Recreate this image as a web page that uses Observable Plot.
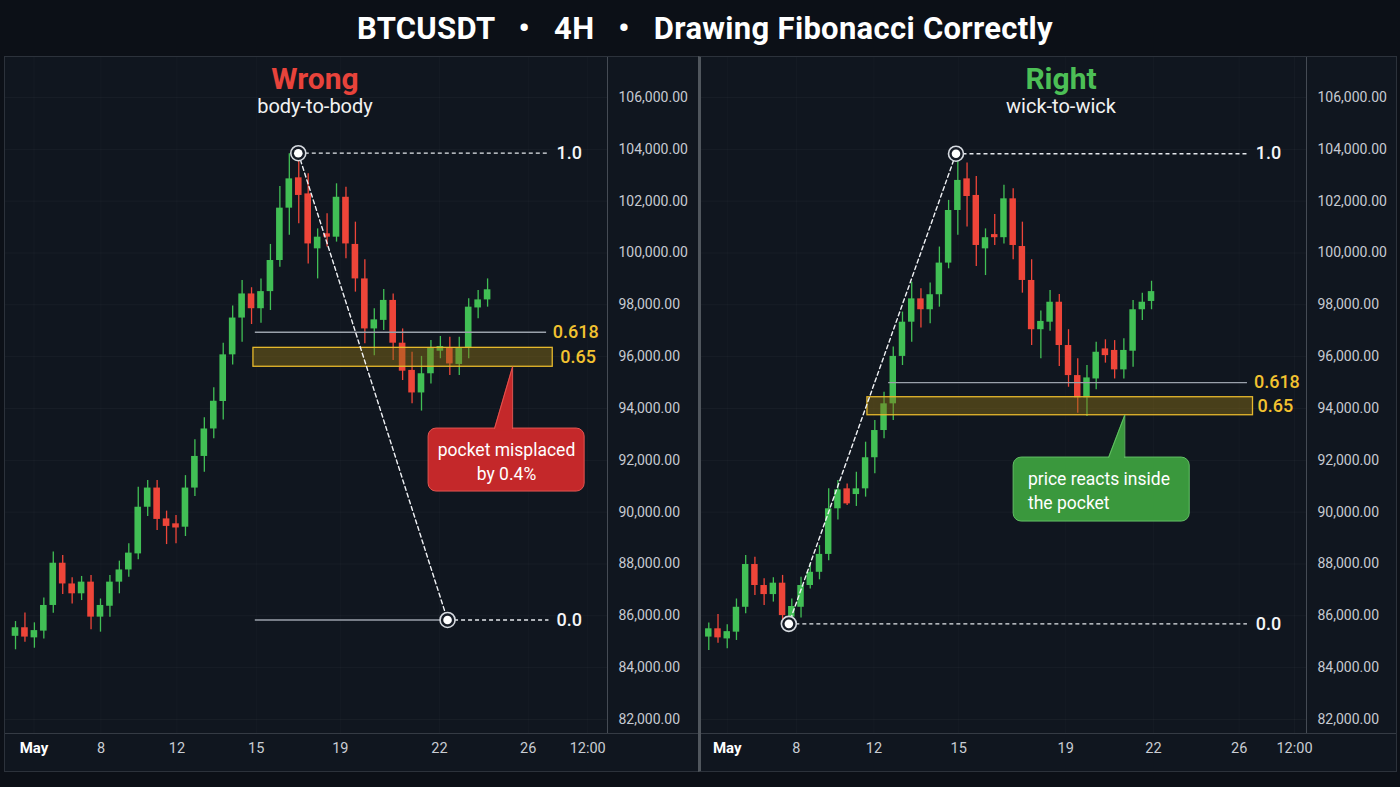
<!DOCTYPE html>
<html><head><meta charset="utf-8">
<script src="https://cdn.jsdelivr.net/npm/d3@7"></script>
<script src="https://cdn.jsdelivr.net/npm/@observablehq/plot@0.6"></script>
<style>
html,body{margin:0;padding:0;background:#0c1017;}
#root{position:relative;width:1400px;height:787px;overflow:hidden;background:#0c1017;font-family:Roboto,"Noto Sans",sans-serif;}
#title{position:absolute;left:5px;top:10px;width:1400px;line-height:37px;text-align:center;color:#fff;font-weight:700;font-size:31px;letter-spacing:0.3px;white-space:pre;}
.panel{position:absolute;top:56px;height:714px;background:#10161f;border:1px solid #2c323b;}
#left{left:4px;width:693px;border-right:none;}
#right{left:698px;width:695px;border-left:3px solid #50565d;}
.axisrow{position:absolute;left:0;right:0;top:676px;height:38px;border-top:1px solid #353b44;pointer-events:none;}
.pt{position:absolute;top:5px;width:240px;text-align:center;white-space:nowrap;}
.pt .h{font-size:30px;font-weight:700;line-height:34px;}
.pt .s{font-size:20px;line-height:24px;color:#f2f2f2;margin-top:-2px;}
.panel svg{position:absolute;left:0;top:0;}
</style></head>
<body>
<div id="root">
  <div id="title">BTCUSDT   •   4H   •   Drawing Fibonacci Correctly</div>
  <div class="panel" id="left">
    <div class="pt" style="left:190px"><div class="h" style="color:#e8433b">Wrong</div><div class="s">body-to-body</div></div>
    <div class="axisrow"></div>
  </div>
  <div class="panel" id="right">
    <div class="pt" style="left:240px"><div class="h" style="color:#4cbf56">Right</div><div class="s">wick-to-wick</div></div>
    <div class="axisrow"></div>
  </div>
</div>
<script>
// ---------- DATA ----------
// OHLC rows [open, high, low, close], one per 4H candle
const leftCandles = [
 [85210,85780,84690,85540],[85540,86110,84980,85180],[85150,85730,84750,85430],[85410,86690,85110,86400],
 [86400,88460,86100,88030],[88030,88330,86820,87230],[87230,87470,86460,86850],[86850,87520,86590,87300],
 [87300,87560,85460,85950],[85950,86650,85370,86400],[86370,87560,85950,87300],[87300,88110,86850,87770],
 [87770,88780,87490,88420],[88390,90960,88160,90190],[90190,91220,89830,90930],[90930,91220,89290,89720],
 [89740,90040,88750,89450],[89550,89870,88780,89390],[89420,91410,89060,90930],[90930,92790,90600,92150],
 [92150,93640,91540,93210],[93210,94800,92830,94280],[94270,96520,93560,96070],[96070,97950,95680,97490],
 [97490,98940,96560,98420],[98420,98660,97240,97850],[97850,99000,97290,98510],[98510,100330,97780,99710],
 [99710,102570,99450,101730],[101730,103830,100680,102860],[102900,103570,101130,102220],[102280,103060,99580,100350],
 [100160,100930,99000,100610],[100740,101510,100230,100610],[100610,102670,100420,102150],[102150,102540,99780,100350],
 [100330,101190,98490,99000],[99000,99740,96500,97070],[97070,97850,96040,97420],[97400,98590,97010,98170],
 [98170,98420,95850,96520],[96520,97070,95080,95440],[95470,96170,94180,94600],[94600,96010,93900,95340],
 [95340,96620,94950,96340],[96210,96780,95920,96390],[96340,96750,95270,95720],[95700,96750,95270,96340],
 [96340,98230,95920,97910],[97880,98550,97460,98190],[98190,99000,97910,98580]
];
const rightCandles = [
 [85180,85720,84660,85500],[85500,86050,84940,85150],[85110,85660,84730,85390],[85370,86650,85050,86330],
 [86330,88330,86080,87980],[87980,88260,86780,87170],[87170,87430,86400,86820],[86820,87470,86530,87260],
 [87260,87560,85750,86010],[85950,86650,85800,86360],[86330,87490,85920,87170],[87170,88010,87040,87680],
 [87680,88710,87390,88370],[88370,90900,88130,90130],[90130,91220,89700,90860],[90900,91090,90260,90320],
 [90680,91540,90220,90900],[90900,92700,90580,92100],[92100,93540,91480,93150],[93150,94630,92830,94180],
 [94180,96370,93540,96010],[96010,97720,95660,97330],[97330,98870,96560,98230],[98230,98620,97110,97810],
 [97810,98840,97270,98390],[98390,100230,97910,99610],[99610,102030,99390,101640],[101640,103830,100680,102800],
 [102860,103470,101000,102180],[102220,102950,99480,100290],[100160,100930,99130,100590],[100710,101490,100290,100590],
 [100590,102610,100350,102090],[102090,102480,99740,100290],[100250,101190,98450,98940],[98940,99740,96430,97040],
 [97040,97760,95920,97360],[97330,98550,96980,98100],[98100,98400,95620,96430],[96430,97040,94820,95270],
 [95270,95920,93820,94410],[94410,95660,93690,95180],[95140,96560,94720,96170],[96300,96650,95750,96040],
 [96240,96620,95140,95490],[95490,96690,95140,96240],[96210,98170,95590,97810],[97810,98450,97400,98100],
 [98130,98910,97810,98510]
];
const priceTicks = [82000,84000,86000,88000,90000,92000,94000,96000,98000,100000,102000,104000,106000];
const tickLabels = ["May","8","12","15","19","22","26","12:00"];
const leftTickPos  = [1.96, 9.05, 17.1, 25.5, 34.4, 44.9, 54.3, 60.6];   // candle-index positions
const rightTickPos = [2.0, 9.5, 17.9, 27.1, 38.7, 48.2, 57.5, 63.5];

// Fibonacci drawings (x in candle index, price in USDT)
const leftAnchors = [{x:29.95, price:103850},{x:45.76, price:85840}];
const leftFibLines = [
 {price:103850, from:29.95, to:56.5, dash:true},
 {price:96940, from:25.4, to:56.25, dash:false},
 {price:85840, from:25.4, to:45.76, dash:false},
 {price:85840, from:45.76, to:56.5, dash:true}
];
const leftFibLabels = [
 {text:"1.0", price:103850, x:57.3},{text:"0.618", price:96940, x:56.9},
 {text:"0.65", price:95975, x:57.7},{text:"0.0", price:85840, x:57.3}
];
const leftPocket = {x1:25.2, x2:56.9, top:96340, bottom:95610};
const leftCallout = {text:"pocket misplaced\nby 0.4%", x1:43.75, x2:60.28, top:93226, bottom:90795,
  baseX:50.74, tipX:52.65, tipY:95610, textX:52.0, textY:92010};

const rightAnchors = [{x:26.8, price:103830},{x:8.68, price:85690}];
const rightFibLines = [
 {price:103830, from:26.8, to:58.4, dash:true},
 {price:95000, from:19.5, to:58.4, dash:false},
 {price:85690, from:8.68, to:58.4, dash:true}
];
const rightFibLabels = [
 {text:"1.0", price:103830, x:59.3},{text:"0.618", price:95000, x:59.1},
 {text:"0.65", price:94090, x:59.5},{text:"0.0", price:85690, x:59.3}
];
const rightPocket = {x1:17.2, x2:59.0, top:94435, bottom:93740};
const rightCallout = {text:"price reacts inside\nthe pocket", x1:33.05, x2:52.14, top:92107, bottom:89638,
  baseX:43.35, tipX:45.1, tipY:93740, textX:34.6, textY:90870};

const goldLevels = ["0.618","0.65"];

// ---------- DRAW ----------
const GREEN = "#41bf55", RED = "#ee4539", GOLD = "#f2c230";
const fmt = d3.format(",.2f");

function panel(cfg) {
  const data = cfg.candles.map(([o,h,l,c],i)=>({i,o,h,l,c}));
  const up = data.filter(d=>d.c>=d.o), dn = data.filter(d=>d.c<d.o);
  const W = 0.35;
  const c = cfg.callout;
  const xMax = cfg.xDomain[1];
  const ticks = cfg.tickPos.map((p,k)=>({p, label:tickLabels[k]}));
  return Plot.plot({
    width: cfg.width, height: 714,
    marginLeft: 0, marginRight: cfg.marginRight, marginTop: 0, marginBottom: 38,
    x: {domain: cfg.xDomain, axis: null},
    y: {domain: [81460, 107543], axis: null},
    style: {background: "transparent", color: "#c9cdd4", fontFamily: "Roboto, sans-serif", overflow: "visible"},
    marks: [
      Plot.ruleY(priceTicks, {stroke: "#ffffff", strokeOpacity: 0.035}),
      Plot.ruleX(cfg.tickPos, {stroke: "#ffffff", strokeOpacity: 0.025}),
      Plot.ruleX(up, {x: "i", y1: "l", y2: "h", stroke: GREEN, strokeWidth: 1.3}),
      Plot.ruleX(dn, {x: "i", y1: "l", y2: "h", stroke: RED, strokeWidth: 1.3}),
      Plot.rect(up, {x1: d=>d.i-W, x2: d=>d.i+W, y1: "o", y2: "c", fill: GREEN}),
      Plot.rect(dn, {x1: d=>d.i-W, x2: d=>d.i+W, y1: "o", y2: "c", fill: RED}),
      // pocket
      Plot.rect([cfg.pocket], {x1: "x1", x2: "x2", y1: "bottom", y2: "top", fill: "#8f7014", fillOpacity: 0.45, stroke: "#e6b82c", strokeWidth: 1.3}),
      // fib lines
      Plot.ruleY(cfg.fibLines.filter(d=>!d.dash), {y: "price", x1: "from", x2: "to", stroke: "#9aa1ab", strokeWidth: 1.4}),
      Plot.ruleY(cfg.fibLines.filter(d=>d.dash), {y: "price", x1: "from", x2: "to", stroke: "#e4e7ec", strokeWidth: 1.3, strokeDasharray: "4,3"}),
      Plot.line(cfg.anchors, {x: "x", y: "price", stroke: "#f0f2f5", strokeWidth: 1.4, strokeDasharray: "4,3"}),
      Plot.dot(cfg.anchors, {x: "x", y: "price", r: 7.5, fill: "#151b25", stroke: "#d6dae0", strokeWidth: 1.6}),
      Plot.dot(cfg.anchors, {x: "x", y: "price", r: 4.3, fill: "#ffffff"}),
      Plot.text(cfg.fibLabels.filter(d=>!goldLevels.includes(d.text)), {x: "x", y: "price", text: "text", textAnchor: "start", fill: "#f4f5f7", fontSize: 18, fontWeight: 500}),
      Plot.text(cfg.fibLabels.filter(d=>goldLevels.includes(d.text)), {x: "x", y: "price", text: "text", textAnchor: "start", fill: GOLD, fontSize: 18, fontWeight: 500}),
      // callout
      Plot.rect([c], {x1: "x1", x2: "x2", y1: "bottom", y2: "top", fill: cfg.calloutFill, stroke: cfg.calloutStroke, strokeWidth: 1, rx: 8}),
      Plot.areaY([{x: c.baseX, y1: c.top - 80, y2: c.top}, {x: c.tipX, y1: c.top - 80, y2: c.tipY}], {x: "x", y1: "y1", y2: "y2", fill: cfg.calloutFill, curve: "linear"}),
      Plot.line([{x: c.baseX, y: c.top}, {x: c.tipX, y: c.tipY}, {x: c.tipX, y: c.top}], {x: "x", y: "y", stroke: cfg.calloutStroke, strokeWidth: 1}),
      Plot.text([c], {x: "textX", y: "textY", text: "text", fill: "#ffffff", fontSize: 17.5, lineHeight: 1.38, textAnchor: cfg.calloutAnchor}),
      // price axis separator + labels
      Plot.ruleX([xMax], {stroke: "#454b54", strokeWidth: 1}),
      Plot.text(priceTicks, {y: d=>d, frameAnchor: "right", dx: 11, textAnchor: "start", text: d=>fmt(d), fill: "#c6cad2", fontSize: 14}),
      // time axis labels
      Plot.text(ticks.slice(0,1), {x: "p", text: "label", frameAnchor: "bottom", dy: 19, fill: "#ffffff", fontSize: 15, fontWeight: "bold"}),
      Plot.text(ticks.slice(1), {x: "p", text: "label", frameAnchor: "bottom", dy: 19, fill: "#c9cdd4", fontSize: 14.5})
    ]
  });
}

const leftPlot = panel({
  candles: leftCandles, width: 693, marginRight: 91, xDomain: [-1.06, 62.7], tickPos: leftTickPos,
  anchors: leftAnchors, fibLines: leftFibLines, fibLabels: leftFibLabels, pocket: leftPocket,
  callout: leftCallout, calloutFill: "#c4282a", calloutStroke: "#e25550", calloutAnchor: "middle"
});
const rightPlot = panel({
  candles: rightCandles, width: 695, marginRight: 90, xDomain: [-0.79, 64.8], tickPos: rightTickPos,
  anchors: rightAnchors, fibLines: rightFibLines, fibLabels: rightFibLabels, pocket: rightPocket,
  callout: rightCallout, calloutFill: "#3a983d", calloutStroke: "#62c064", calloutAnchor: "start"
});
document.getElementById("left").prepend(leftPlot);
document.getElementById("right").prepend(rightPlot);
</script>
</body></html>
